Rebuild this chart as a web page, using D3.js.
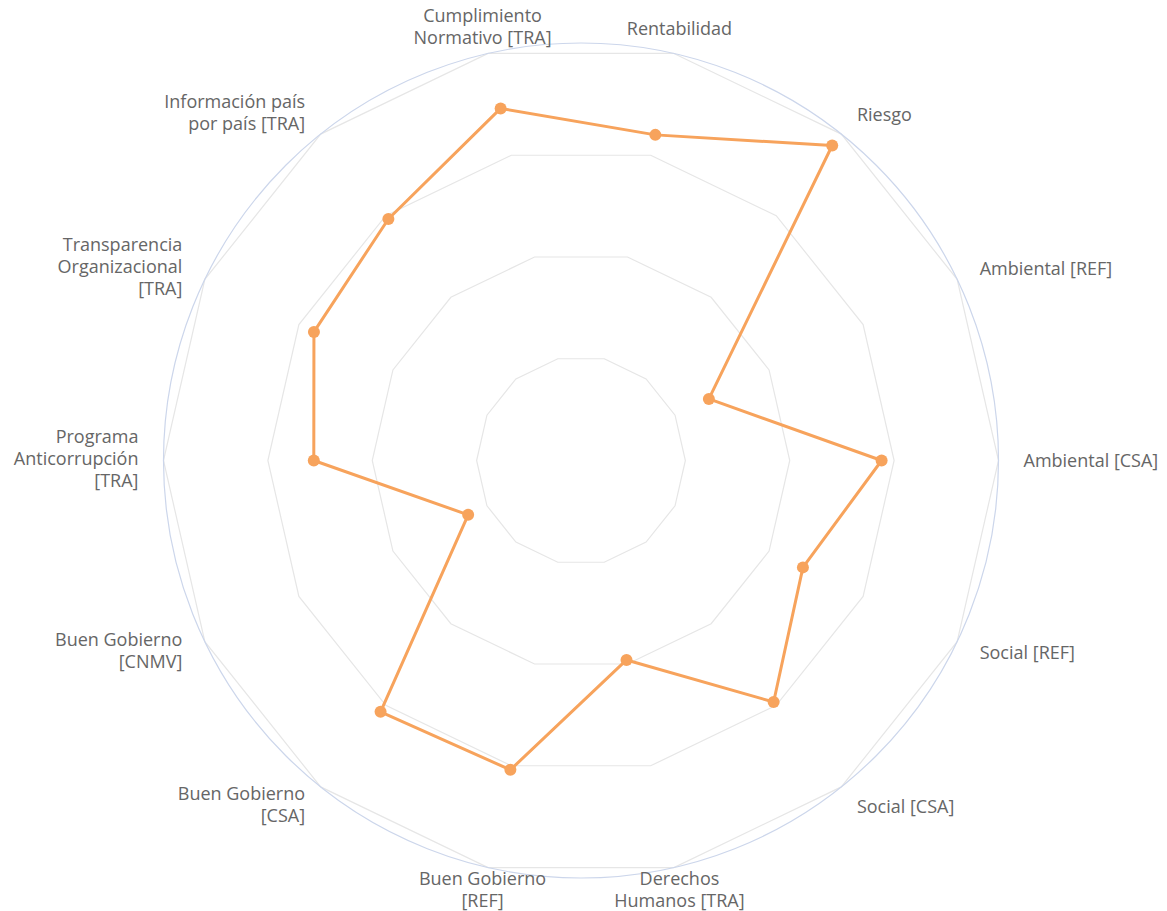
<!DOCTYPE html>
<html>
<head>
<meta charset="utf-8">
<script src="https://cdn.jsdelivr.net/npm/d3@7"></script>
<style>
  html, body { margin: 0; padding: 0; background: #ffffff; }
  svg { display: block; }
  .axis-label { font-family: "Open Sans", "Noto Sans", sans-serif; font-size: 18px; fill: #666666; }
</style>
</head>
<body>
<svg id="chart" width="1167" height="911"></svg>
<script>
// Radar categories, clockwise starting just right of the top
const categories = [
  ["Rentabilidad"],
  ["Riesgo"],
  ["Ambiental [REF]"],
  ["Ambiental [CSA]"],
  ["Social [REF]"],
  ["Social [CSA]"],
  ["Derechos", "Humanos [TRA]"],
  ["Buen Gobierno", "[REF]"],
  ["Buen Gobierno", "[CSA]"],
  ["Buen Gobierno", "[CNMV]"],
  ["Programa", "Anticorrupción", "[TRA]"],
  ["Transparencia", "Organizacional", "[TRA]"],
  ["Información país", "por país [TRA]"],
  ["Cumplimiento", "Normativo [TRA]"]
];

// Score per category (0–100)
const values = [80, 96.5, 34, 72, 59, 74, 49, 76, 77, 30, 64, 71, 74, 86.5];

// Grid levels
const gridLevels = [25, 50, 75, 100];

const svg = d3.select("#chart");
const cx = 581, cy = 460.5, R = 417.5;
const n = categories.length;
const step = 2 * Math.PI / n;
const startAngle = step / 2; // first axis sits half a step clockwise from top

const rScale = d3.scaleLinear().domain([0, 100]).range([0, R]);
const angle = i => startAngle + i * step;
const pt = (i, r) => [cx + r * Math.sin(angle(i)), cy - r * Math.cos(angle(i))];

const g = svg.append("g");

// Polygon grid rings
gridLevels.forEach(lv => {
  const pts = d3.range(n).map(i => pt(i, rScale(lv)));
  g.append("path")
    .attr("d", d3.line()(pts) + "Z")
    .attr("fill", "none")
    .attr("stroke", "#e6e6e6")
    .attr("stroke-width", 1.2);
});

// Outer circular axis line
g.append("circle")
  .attr("cx", cx).attr("cy", cy).attr("r", R)
  .attr("fill", "none")
  .attr("stroke", "#ccd6eb")
  .attr("stroke-width", 1.2);

// Series line
const linePts = values.map((v, i) => pt(i, rScale(v)));
g.append("path")
  .attr("d", d3.line()(linePts) + "Z")
  .attr("fill", "none")
  .attr("stroke", "#f7a35c")
  .attr("stroke-width", 3)
  .attr("stroke-linejoin", "round");

// Markers
g.selectAll("circle.marker")
  .data(values)
  .join("circle")
  .attr("class", "marker")
  .attr("cx", (v, i) => pt(i, rScale(v))[0])
  .attr("cy", (v, i) => pt(i, rScale(v))[1])
  .attr("r", 6)
  .attr("fill", "#f7a35c");

// Category labels around the circle
const labelR = R + 25;
const lineH = 22;
categories.forEach((lines, i) => {
  const [x, y] = pt(i, labelR);
  const s = Math.sin(angle(i));
  const anchor = Math.abs(s) < 0.3 ? "middle" : (s > 0 ? "start" : "end");
  const t = g.append("text")
    .attr("class", "axis-label")
    .attr("text-anchor", anchor)
    .attr("x", x)
    .attr("y", y);
  const y0 = -(lines.length - 1) * lineH / 2 - (lines.length > 1 ? 2 : 0);
  lines.forEach((ln, k) => {
    t.append("tspan")
      .attr("x", x)
      .attr("y", y + y0 + k * lineH)
      .attr("dy", "0.35em")
      .text(ln);
  });
});
</script>
</body>
</html>
